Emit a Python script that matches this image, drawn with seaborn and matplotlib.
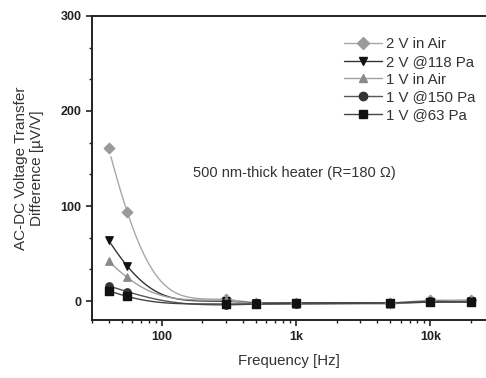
import numpy as np
import pandas as pd
import seaborn as sns
import matplotlib.pyplot as plt
import matplotlib.ticker as mticker

freq = [40, 55, 300, 500, 1000, 5000, 10000, 20000]

series_names = ["2 V in Air", "2 V @118 Pa", "1 V in Air", "1 V @150 Pa", "1 V @63 Pa"]
air_2v = [161, 94, 2, -2, -2, -2, 1, 1]
pa118_2v = [64, 37, 0, -2, -2, -2, -1, 0]
air_1v = [42, 25, 1, -3, -3, -3, 0, 1]
pa150_1v = [16, 10, -4, -3, -3, -2, 0, -1]
pa63_1v = [11, 5, -3, -3, -2, -2, -1, -1]
values = [air_2v, pa118_2v, air_1v, pa150_1v, pa63_1v]

markers = ["D", "v", "^", "o", "s"]
marker_colors = ["#9a9a9a", "#111111", "#8a8a8a", "#333333", "#111111"]
line_colors = ["#a8a8a8", "#333333", "#a0a0a0", "#555555", "#444444"]

rows = []
for name, vals in zip(series_names, values):
    for f, v in zip(freq, vals):
        rows.append({"series": name, "freq": f, "value": v})
df = pd.DataFrame(rows)

sns.set_theme(style="ticks")
plt.rcParams["font.family"] = ["Liberation Sans", "DejaVu Sans"]

fig = plt.figure(figsize=(4.86, 3.78), dpi=100)
ax = fig.add_axes([0.189, 0.153, 0.811, 0.805])

# smooth connecting curves (decay from the low-frequency points onto the flat tail)
for name, lc in zip(series_names, line_colors):
    sub = df[df["series"] == name]
    f = sub["freq"].to_numpy(float)
    y = sub["value"].to_numpy(float)
    d1 = y[0] - y[2]
    d2 = y[1] - y[2]
    tau = (f[1] - f[0]) / np.log(d1 / d2)
    fx = np.geomspace(f[0] * 1.04, f[-1], 400)
    base = np.interp(np.log(fx), np.log(f[2:]), y[2:])
    curve = base + d1 * np.exp(-(fx - f[0]) / tau)
    sns.lineplot(x=fx, y=curve, ax=ax, color=lc, lw=1.0, legend=False,
                 estimator=None, sort=False)

for name, m, mc, lc in zip(series_names, markers, marker_colors, line_colors):
    sub = df[df["series"] == name]
    ax.scatter(sub["freq"], sub["value"], marker=m, s=28, color=mc,
               edgecolor=mc, zorder=5)
    ax.plot([], [], color=lc, lw=1.0, marker=m, markersize=6,
            markerfacecolor=mc, markeredgecolor=mc, label=name)

ax.set_xscale("log")
ax.set_xlim(30, 26000)
ax.set_ylim(-20, 300)
ax.set_yticks([0, 100, 200, 300])
ax.yaxis.set_minor_locator(mticker.AutoMinorLocator(3))
ax.xaxis.set_major_locator(mticker.FixedLocator([100, 1000, 10000]))
ax.xaxis.set_major_formatter(mticker.FixedFormatter(["100", "1k", "10k"]))
ax.xaxis.set_minor_locator(mticker.LogLocator(base=10, subs=np.arange(2, 10)))
ax.xaxis.set_minor_formatter(mticker.NullFormatter())

for s in ["left", "bottom", "top"]:
    ax.spines[s].set_linewidth(1.4)
    ax.spines[s].set_color("#222222")
ax.spines["right"].set_visible(False)
ax.tick_params(which="major", direction="out", length=4, width=1.2,
               labelsize=9, colors="#222222")
ax.tick_params(axis="x", which="major", pad=4)
ax.tick_params(which="minor", direction="out", length=2.5, width=1.0,
               colors="#222222")
for lab in ax.get_xticklabels() + ax.get_yticklabels():
    lab.set_fontweight("bold")

ax.set_xlabel("Frequency [Hz]", fontsize=10.8, color="#333333", labelpad=8)
ax.set_ylabel("AC-DC Voltage Transfer\nDifference [\u00b5V/V]", fontsize=11,
              color="#333333", labelpad=12, linespacing=1.2)

ax.text(0.515, 0.484, "500 nm-thick heater (R=180 \u03a9)", transform=ax.transAxes,
        fontsize=10.5, color="#333333", ha="center", va="center")

leg = ax.legend(loc="upper right", bbox_to_anchor=(1.0, 0.965), frameon=False,
                fontsize=10.8, handlelength=2.5, handletextpad=0.3,
                labelspacing=0.25, borderpad=0.2)
for t in leg.get_texts():
    t.set_color("#333333")

fig.savefig("out.png", dpi=100)
